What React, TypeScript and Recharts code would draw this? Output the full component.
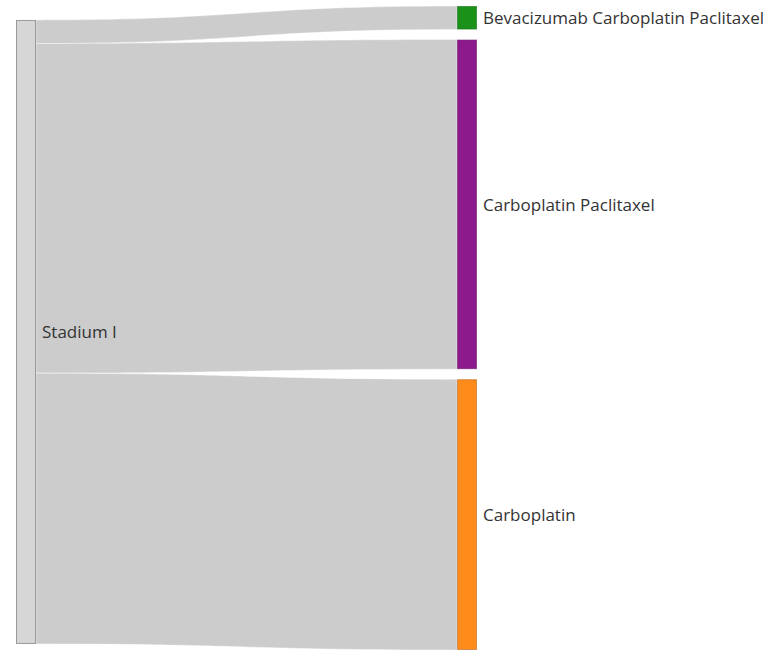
import React from "react";
import { Sankey } from "recharts";

const nodeNames = ["Stadium I", "Bevacizumab Carboplatin Paclitaxel", "Carboplatin Paclitaxel", "Carboplatin"];
const linkSources = [0, 0, 0];
const linkTargets = [1, 2, 3];
const linkValues = [2, 28, 23];

const nodeFills = ["#d6d6d6", "#1a921a", "#8c1a8c", "#ff8c1a"];
const nodeStrokes = ["#999999", "#156b15", "#6a136a", "#b8661a"];

const data = {
  nodes: nodeNames.map((name) => ({ name })),
  links: linkValues.map((value, i) => ({ source: linkSources[i], target: linkTargets[i], value })),
};

const NodeShape = (props: any) => {
  const { x, y, width, height, index, payload } = props;
  return (
    <g>
      <rect
        x={x + 0.5}
        y={y + 0.5}
        width={width - 1}
        height={height - 1}
        fill={nodeFills[index]}
        stroke={nodeStrokes[index]}
        strokeOpacity={index === 0 ? 1 : 0.6}
        strokeWidth={1}
      />
      <text
        x={x + width + 6}
        y={y + height / 2}
        dominantBaseline="central"
        fontSize={17}
        fill="#333"
        fontFamily="'Open Sans', sans-serif"
      >
        {payload.name}
      </text>
    </g>
  );
};

const LinkShape = (props: any) => {
  const { sourceX, targetX, sourceY, targetY, sourceControlX, targetControlX, linkWidth } = props;
  const h = linkWidth / 2;
  const d = `M${sourceX},${sourceY - h} C${sourceControlX},${sourceY - h} ${targetControlX},${targetY - h} ${targetX},${targetY - h} L${targetX},${targetY + h} C${targetControlX},${targetY + h} ${sourceControlX},${sourceY + h} ${sourceX},${sourceY + h} Z`;
  return <path d={d} fill="#cccccc" stroke="#ffffff" strokeOpacity={0.7} strokeWidth={0.6} />;
};

export default function App() {
  return (
    <div style={{ position: "absolute", left: 0, top: 0 }}>
      <Sankey
        width={763}
        height={650}
        data={data}
        nodeWidth={20}
        nodePadding={10}
        margin={{ top: 6, right: 286, bottom: 0, left: 16 }}
        node={<NodeShape />}
        link={<LinkShape />}
        iterations={32}
        sort={false}
      />
    </div>
  );
}
